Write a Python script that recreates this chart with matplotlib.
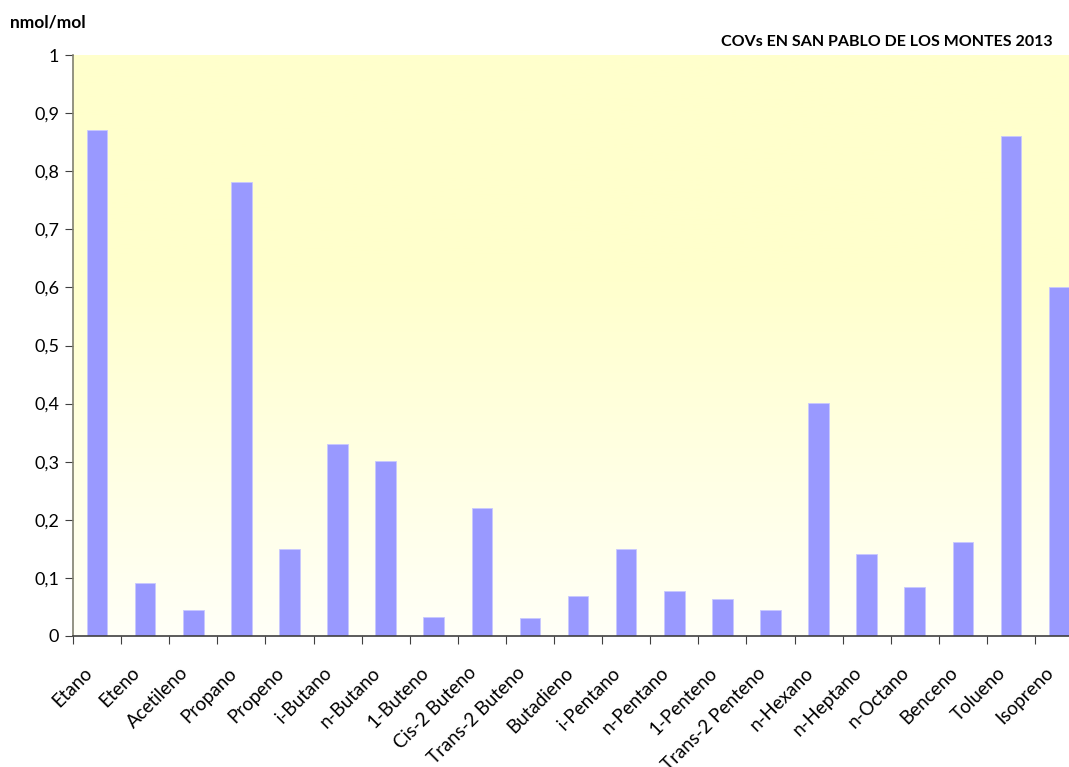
import numpy as np
import matplotlib.pyplot as plt
from matplotlib.ticker import FuncFormatter
from matplotlib.transforms import ScaledTranslation

compuestos = ["Etano", "Eteno", "Acetileno", "Propano", "Propeno", "i-Butano",
              "n-Butano", "1-Buteno", "Cis-2 Buteno", "Trans-2 Buteno",
              "Butadieno", "i-Pentano", "n-Pentano", "1-Penteno",
              "Trans-2 Penteno", "n-Hexano", "n-Heptano", "n-Octano",
              "Benceno", "Tolueno", "Isopreno"]
valores = [0.871, 0.092, 0.045, 0.781, 0.150, 0.331, 0.301, 0.032, 0.221,
           0.031, 0.068, 0.150, 0.077, 0.063, 0.044, 0.401, 0.141, 0.085,
           0.161, 0.861, 0.601]

plt.rcParams["font.family"] = ["Lato", "DejaVu Sans"]

fig = plt.figure(figsize=(10.69, 7.67), dpi=100)
W, H = 1069, 767
left, top, bottom = 73, 55, 636
width = 21 * 48.1
ax = fig.add_axes([left / W, 1 - bottom / H, width / W, (bottom - top) / H])

# fondo degradado amarillo -> blanco
grad = np.linspace(0, 1, 256).reshape(-1, 1)
c_top = np.array([1.0, 1.0, 0.8])
c_bot = np.array([1.0, 1.0, 0.97])
w = np.clip(grad * 1.6, 0, 1)
img = c_bot + (c_top - c_bot) * w[..., None]
ax.imshow(img, extent=[-0.5, 20.5, 0, 1], aspect="auto", origin="lower",
          zorder=0)

x = np.arange(len(compuestos))
ax.bar(x, valores, width=0.43, color="#9999FF", edgecolor="#C8C8FF",
       linewidth=0.6, zorder=2)

ax.set_xlim(-0.5, 20.5)
ax.set_ylim(0, 1)
ax.set_yticks(np.arange(0, 1.01, 0.1))
ax.yaxis.set_major_formatter(FuncFormatter(
    lambda v, p: "0" if v == 0 else ("1" if abs(v - 1) < 1e-9 else f"{v:.1f}".replace(".", ","))))
ax.set_xticks(np.arange(-0.5, 20.6, 1.0))
ax.set_xticklabels([])
ax.tick_params(axis="x", which="major", length=6, direction="out",
               color="#404040")
ax.tick_params(axis="y", length=6, direction="out", labelsize=13,
               color="#404040", pad=4)

# etiquetas de categoria giradas, algo desplazadas a la izquierda
lbl_tr = ax.get_xaxis_transform() + ScaledTranslation(-0.14, -0.28,
                                                      fig.dpi_scale_trans)
for xi, name in zip(x, compuestos):
    ax.text(xi, 0, name, transform=lbl_tr, rotation=45, ha="right",
            va="top", rotation_mode="anchor", fontsize=13.5)

for s in ["top", "right"]:
    ax.spines[s].set_visible(False)
ax.spines["left"].set_color("#808070")
ax.spines["left"].set_linewidth(1.2)
ax.spines["bottom"].set_color("#404040")
ax.spines["bottom"].set_linewidth(1.2)

fig.text(10 / W, 1 - 22 / H, "nmol/mol", fontsize=12.5, fontweight="bold",
         va="center", ha="left")
fig.text(1053 / W, 1 - 42 / H, "COVs EN SAN PABLO DE LOS MONTES 2013",
         fontsize=11.5, fontweight="bold", va="center", ha="right")

fig.savefig("out.png", dpi=100)
